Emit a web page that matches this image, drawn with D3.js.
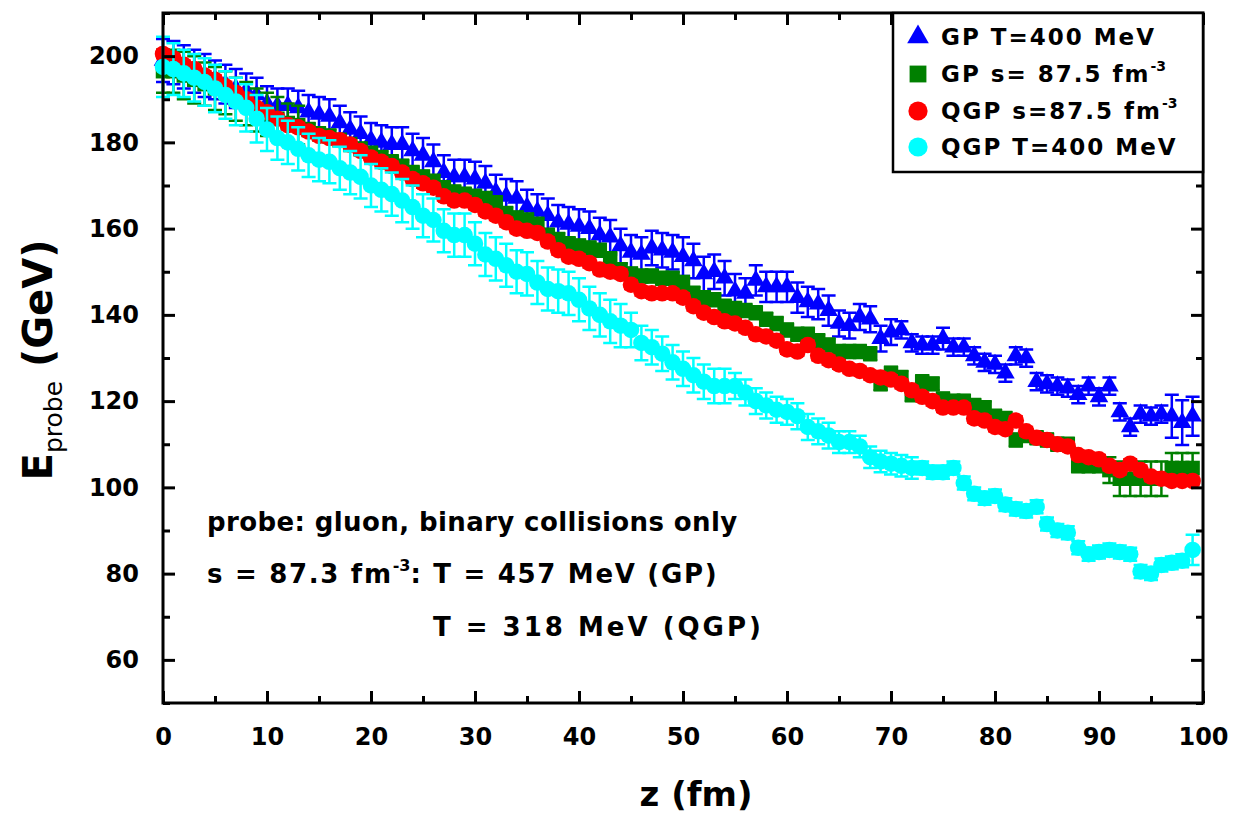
<!DOCTYPE html>
<html>
<head>
<meta charset="utf-8">
<script src="https://cdn.jsdelivr.net/npm/d3@7"></script>
<style>
  html, body { margin: 0; padding: 0; background: #fff; }
  svg { display: block; }
  text { font-family: "DejaVu Sans", sans-serif; fill: #000; }
</style>
</head>
<body>
<svg id="chart" width="1238" height="816"></svg>
<script>
// Path length z (fm) at which the probe energy is sampled
const zValues = [
  0, 1, 2, 3, 4, 5, 6, 7, 8, 9, 10, 11, 12, 13, 14, 15, 16, 17, 18, 19,
  20, 21, 22, 23, 24, 25, 26, 27, 28, 29, 30, 31, 32, 33, 34, 35, 36, 37, 38, 39,
  40, 41, 42, 43, 44, 45, 46, 47, 48, 49, 50, 51, 52, 53, 54, 55, 56, 57, 58, 59,
  60, 61, 62, 63, 64, 65, 66, 67, 68, 69, 70, 71, 72, 73, 74, 75, 76, 77, 78, 79,
  80, 81, 82, 83, 84, 85, 86, 87, 88, 89, 90, 91, 92, 93, 94, 95, 96, 97, 98, 99
];

// GP, T = 400 MeV
const gpT400 = [
  199, 198.5, 197.5, 196.5, 195.5, 194.5, 193.5, 192.5, 192, 191,
  189, 188.5, 188.5, 188, 187, 186.5, 186, 184.5, 183, 182,
  180.5, 180, 179.5, 179.5, 178, 177, 175.5, 173, 172, 172,
  171.5, 170.5, 168.5, 167.5, 167, 165, 164, 163, 161.5, 161,
  160.5, 160, 158.5, 158, 156, 154.5, 154, 155.5, 155, 154.5,
  153.5, 152.5, 149.5, 150, 148.5, 145.5, 145, 148, 146.5, 146.5,
  146.5, 144, 143, 142.5, 141, 138, 137.5, 139.5, 139, 134.5,
  136, 136.5, 133.5, 133, 133, 134.5, 132.5, 132.5, 130.5, 129,
  128.5, 126.5, 130.5, 130, 124.5, 124, 123.5, 123, 121.5, 123.5,
  121, 123.5, 117.5, 114, 117, 116.5, 117, 116.5, 115, 116.5
];
const gpT400Err = [
  5, 5, 5, 5, 5, 4.5, 4.5, 4.5, 4, 4,
  4, 4, 4, 4, 4, 4, 4, 4, 4, 4,
  4, 4, 4, 4, 4, 4, 4, 4, 4, 4,
  4, 4, 4, 4, 4, 4, 4, 4, 4, 4,
  4, 4, 4, 4, 4, 4, 4, 4, 4, 4,
  4.5, 4, 4, 4, 4, 4, 3.5, 3.5, 3.5, 3.5,
  3.5, 3.5, 3.5, 3.5, 3.5, 3, 3, 3, 3, 3,
  3, 2, 2, 2, 2, 2.5, 2, 2, 2, 2,
  2, 2, 2, 2, 2, 2, 2, 2, 2, 2,
  2, 2, 2, 2, 2, 2, 2, 5, 5.2, 4.5
];

// GP, s = 87.5 fm^-3
const gpS875 = [
  196.5, 196.5, 195.5, 194.5, 193.5, 192.5, 191.5, 190, 189, 187.5,
  186.5, 185.5, 184.5, 184, 183, 182, 181.5, 180.5, 179.5, 178.5,
  177.5, 176.5, 175.5, 174.5, 173, 172, 171, 169.5, 168.5, 168,
  167.5, 167, 166, 163.5, 162.5, 162, 161, 158.5, 157.5, 156.5,
  156, 155.5, 155, 153, 150.5, 149.5, 149, 149, 148.5, 148.5,
  147.5, 145, 144, 143.5, 142, 141.5, 141, 140.5, 139, 138,
  136.5, 135.5, 135.5, 134, 133, 131.5, 131.5, 131.5, 131, 124,
  126.5, 125.5, 121.5, 124.5, 124, 120.5, 120, 120, 119, 118.5,
  116.5, 116, 111, 112, 111.5, 111, 110, 110, 105, 105,
  105, 104, 102, 102, 102, 102, 102, 104.5, 104.5, 104.5
];
const gpS875Err = [
  5, 5, 5.5, 5.5, 5, 5, 5, 5, 5, 5,
  5, 5, 4.5, 4.5, 1.5, 1.5, 1.5, 1.5, 1.5, 1.5,
  1.5, 1.5, 1.5, 1.5, 1.5, 1.5, 1.5, 1.5, 1.5, 1.5,
  1.5, 1.5, 1.5, 1.5, 1.5, 1.5, 1.5, 1.5, 1.5, 1.5,
  1.5, 1.5, 1.5, 1.5, 1.5, 1.5, 1.5, 1.5, 1.5, 1.5,
  1.5, 1.5, 1.5, 1.5, 1.5, 1.5, 1.5, 1.5, 1.5, 1.5,
  1.5, 1.5, 1.5, 1.5, 1.5, 1.5, 1.5, 1.5, 1.5, 1.5,
  1.5, 1.5, 1.5, 1.5, 1.5, 1.5, 1.5, 1.5, 1.5, 1.5,
  1.5, 1.5, 1.5, 1.5, 1.5, 1.5, 1.5, 1.5, 1.5, 1.5,
  1.5, 3, 4, 4, 4, 4, 4, 3.5, 3.5, 3.5
];

// QGP, s = 87.5 fm^-3
const qgpS875 = [
  200.5, 199.5, 198, 197, 195.5, 194.5, 193, 191.5, 190, 188,
  187, 185.5, 184, 183.5, 182.5, 181.5, 181, 180.5, 179.5, 178,
  176.5, 175.5, 174.5, 173, 171.5, 170.5, 169.5, 167.5, 166.5, 166.5,
  165.5, 164, 163, 161.5, 160, 159.5, 159, 157, 155, 153.5,
  153, 152, 150.5, 150, 149.5, 147, 145.5, 145, 145, 145,
  144, 142, 140.5, 139.5, 138.5, 138, 137, 135.5, 135, 134,
  132, 131.5, 133, 130.5, 129.5, 128.5, 127.5, 127, 126, 125.5,
  125, 124, 122.5, 121, 120, 118.5, 118.5, 118.5, 116, 115.5,
  114, 113.5, 115.5, 113, 111.5, 111, 110, 109.5, 107.5, 107,
  106.5, 105, 104, 105.5, 104, 102.5, 102, 101.5, 101.5, 101.5
];
const qgpS875Err = [
  1, 1, 1, 1, 1, 1, 1, 1, 1, 1,
  1, 1, 1, 1, 1, 1, 1, 1, 1, 1,
  1, 1, 1, 1, 1, 1, 1, 1, 1, 1,
  1, 1, 1, 1, 1, 1, 1, 1, 1, 1,
  1, 1, 1, 1, 1, 1, 1, 1, 1, 1,
  1, 1, 1, 1, 1, 1, 1, 1, 1, 1,
  1, 1, 1, 1, 1, 1, 1, 1, 1, 1,
  1, 1, 1, 1, 1, 1, 1, 1, 1, 1,
  1, 1, 1, 1, 1, 1, 1, 1, 1, 1,
  1, 1, 1, 1, 1, 1, 1, 1, 1, 1
];

// QGP, T = 400 MeV
const qgpT400 = [
  197.5, 197, 196, 195, 194, 192.5, 191, 189.5, 188, 185.5,
  183, 181, 180, 178.5, 177, 176, 175.5, 174, 173, 172,
  170, 169, 168, 166.5, 165, 163, 162, 159.5, 158.5, 158.5,
  156.5, 154, 153, 151.5, 150, 149.5, 147.5, 146, 145.5, 145,
  143.5, 141.5, 140, 138.5, 137.5, 136.5, 133.5, 132.5, 131, 129,
  127.5, 126, 124.5, 123.5, 123.5, 123.5, 122, 120, 119, 118,
  117.5, 116.5, 114, 113, 112, 110.5, 110.5, 109.5, 107, 106,
  105.5, 105, 104.5, 104.5, 103.5, 103.5, 104.5, 101, 98.5, 97.5,
  98, 96, 95, 94.5, 95.5, 91.5, 90, 89.5, 86, 84.5,
  85, 85.5, 85, 84.5, 80.5, 80, 82, 82.5, 83, 85.5
];
const qgpT400Err = [
  7, 6, 5.5, 5.5, 5.5, 5.5, 5.5, 5.5, 5.5, 5.5,
  5, 5, 5, 5, 5, 5, 5, 5, 5, 5,
  5, 5, 5, 5, 5, 5, 5, 5, 5, 5,
  5, 5, 5, 5, 5, 5, 5, 5, 5, 5,
  5, 5, 5, 5, 5, 4, 4, 4, 4, 4,
  4, 4, 4, 4, 4, 3, 3, 3, 3, 3,
  3, 3, 3, 3, 3, 2.5, 2.5, 2.5, 2.5, 2.5,
  2.5, 2.5, 2.5, 1.5, 1.5, 1.5, 1.5, 1.5, 1.5, 1.5,
  1.5, 1.5, 1.5, 1.5, 1.5, 1.5, 1.5, 1.5, 1.5, 1.5,
  1.5, 1.5, 1.5, 1.5, 1.5, 1.5, 1.5, 1.5, 1.5, 3.5
];

// Axis ticks
const xMajorTicks = [0, 10, 20, 30, 40, 50, 60, 70, 80, 90, 100];
const xMinorTicks = [5, 15, 25, 35, 45, 55, 65, 75, 85, 95];
const yMajorTicks = [60, 80, 100, 120, 140, 160, 180, 200];
const yMinorTicks = [50, 70, 90, 110, 130, 150, 170, 190, 210];

// Series styling, drawn in this order
const series = [
  { name: "GP T=400 MeV",  values: gpT400,  errors: gpT400Err,  color: "#0000ff", symbol: d3.symbolTriangle },
  { name: "GP s= 87.5 fm", values: gpS875,  errors: gpS875Err,  color: "#008000", symbol: d3.symbolSquare },
  { name: "QGP s=87.5 fm", values: qgpS875, errors: qgpS875Err, color: "#ff0000", symbol: d3.symbolCircle },
  { name: "QGP T=400 MeV", values: qgpT400, errors: qgpT400Err, color: "#00ffff", symbol: d3.symbolCircle }
];
const markerArea = { triangle: 150, square: 210, circle: 215 };
function symbolSize(sym, scale) {
  const a = sym === d3.symbolTriangle ? markerArea.triangle
          : sym === d3.symbolSquare ? markerArea.square : markerArea.circle;
  return a * scale;
}

const svg = d3.select("#chart");
const plotLeft = 163, plotRight = 1203, plotTop = 13, plotBottom = 703;

const x = d3.scaleLinear().domain([0, 100]).range([plotLeft, plotRight]);
const y = d3.scaleLinear().domain([50, 210]).range([plotBottom, plotTop]);

// Data: error bars with caps, then markers, one series at a time
const capHalf = 7;
series.forEach(s => {
  const g = svg.append("g").attr("class", "series");
  const pts = zValues.map((z, i) => ({ z, v: s.values[i], e: s.errors[i] }));
  const eb = g.append("g").attr("stroke", s.color).attr("stroke-width", 2.5).attr("fill", "none");
  eb.selectAll("path").data(pts).join("path")
    .attr("d", d => {
      const cx = x(d.z), y0 = y(d.v - d.e), y1 = y(d.v + d.e);
      return `M${cx},${y0}V${y1}M${cx - capHalf},${y1}H${cx + capHalf}M${cx - capHalf},${y0}H${cx + capHalf}`;
    });
  g.append("g").selectAll("path").data(pts).join("path")
    .attr("transform", d => `translate(${x(d.z)},${y(d.v)})`)
    .attr("d", d3.symbol().type(s.symbol).size(symbolSize(s.symbol, 1)))
    .attr("fill", s.color);
});

// Axes with inward ticks on all four sides
function styleAxis(g) {
  g.select(".domain").remove();
  g.selectAll(".tick line").attr("stroke", "#000").attr("stroke-width", 3);
}
const labelFont = g => g.selectAll("text")
  .style("font-family", "'DejaVu Sans', sans-serif")
  .style("font-weight", "bold")
  .style("font-size", "24px")
  .attr("fill", "#000");

svg.append("g").attr("transform", `translate(0,${plotBottom})`)
  .call(d3.axisBottom(x).tickValues(xMajorTicks).tickSizeInner(-12).tickSizeOuter(0).tickPadding(25).tickFormat(d3.format("d")))
  .call(styleAxis).call(labelFont);
svg.append("g").attr("transform", `translate(0,${plotBottom})`)
  .call(d3.axisBottom(x).tickValues(xMinorTicks).tickSizeInner(-7).tickSizeOuter(0).tickFormat(""))
  .call(styleAxis);
svg.append("g").attr("transform", `translate(0,${plotTop})`)
  .call(d3.axisTop(x).tickValues(xMajorTicks).tickSizeInner(-12).tickSizeOuter(0).tickFormat(""))
  .call(styleAxis);
svg.append("g").attr("transform", `translate(0,${plotTop})`)
  .call(d3.axisTop(x).tickValues(xMinorTicks).tickSizeInner(-7).tickSizeOuter(0).tickFormat(""))
  .call(styleAxis);

svg.append("g").attr("transform", `translate(${plotLeft},0)`)
  .call(d3.axisLeft(y).tickValues(yMajorTicks).tickSizeInner(-12).tickSizeOuter(0).tickPadding(24).tickFormat(d3.format("d")))
  .call(styleAxis).call(labelFont);
svg.append("g").attr("transform", `translate(${plotLeft},0)`)
  .call(d3.axisLeft(y).tickValues(yMinorTicks).tickSizeInner(-7).tickSizeOuter(0).tickFormat(""))
  .call(styleAxis);
svg.append("g").attr("transform", `translate(${plotRight},0)`)
  .call(d3.axisRight(y).tickValues(yMajorTicks).tickSizeInner(-12).tickSizeOuter(0).tickFormat(""))
  .call(styleAxis);
svg.append("g").attr("transform", `translate(${plotRight},0)`)
  .call(d3.axisRight(y).tickValues(yMinorTicks).tickSizeInner(-7).tickSizeOuter(0).tickFormat(""))
  .call(styleAxis);

// Plot frame
svg.append("rect")
  .attr("x", plotLeft).attr("y", plotTop).attr("width", plotRight - plotLeft).attr("height", plotBottom - plotTop)
  .attr("fill", "none").attr("stroke", "#000").attr("stroke-width", 3);

// Axis titles
svg.append("text")
  .attr("x", 696).attr("y", 806)
  .attr("text-anchor", "middle")
  .style("font-size", "34px").style("font-weight", "bold")
  .text("z (fm)");

const yTitle = svg.append("text")
  .attr("transform", "translate(52,360) rotate(-90)")
  .attr("text-anchor", "middle")
  .style("font-size", "40px").style("font-weight", "bold");
yTitle.append("tspan").text("E");
yTitle.append("tspan").attr("dy", 10).style("font-size", "25px").style("font-weight", "normal").text("probe");
yTitle.append("tspan").attr("dy", -10).text(" (GeV)");

// Legend
const legend = svg.append("g");
legend.append("rect")
  .attr("x", 893).attr("y", plotTop).attr("width", plotRight - 893).attr("height", 159)
  .attr("fill", "#fff").attr("stroke", "#000").attr("stroke-width", 2.5);
const legendRowY = [37, 74, 111, 147];
series.forEach((s, i) => {
  const ry = legendRowY[i];
  legend.append("path")
    .attr("transform", `translate(918,${ry})`)
    .attr("d", d3.symbol().type(s.symbol).size(symbolSize(s.symbol, 1.35)))
    .attr("fill", s.color);
  const t = legend.append("text")
    .attr("x", 941).attr("y", ry + 8)
    .style("font-size", "23px").style("font-weight", "bold")
    .style("letter-spacing", "2px");
  t.append("tspan").text(s.name);
  if (s.name.includes("fm")) {
    t.append("tspan").attr("dy", -11).style("font-size", "14px").style("letter-spacing", "0px").text("-3");
  }
});

// Annotation
const note = svg.append("g").style("font-size", "26px").style("font-weight", "bold");
note.append("text").attr("x", 207).attr("y", 531)
  .style("letter-spacing", "0.4px")
  .text("probe: gluon, binary collisions only");
const l2 = note.append("text").attr("x", 207).attr("y", 583).style("letter-spacing", "1.7px");
l2.append("tspan").text("s = 87.3 fm");
l2.append("tspan").attr("dy", -12).style("font-size", "16px").style("letter-spacing", "0px").text("-3");
l2.append("tspan").attr("dy", 12).text(": T = 457 MeV (GP)");
note.append("text").attr("x", 433).attr("y", 636)
  .style("letter-spacing", "3px")
  .text("T = 318 MeV (QGP)");
</script>
</body>
</html>
